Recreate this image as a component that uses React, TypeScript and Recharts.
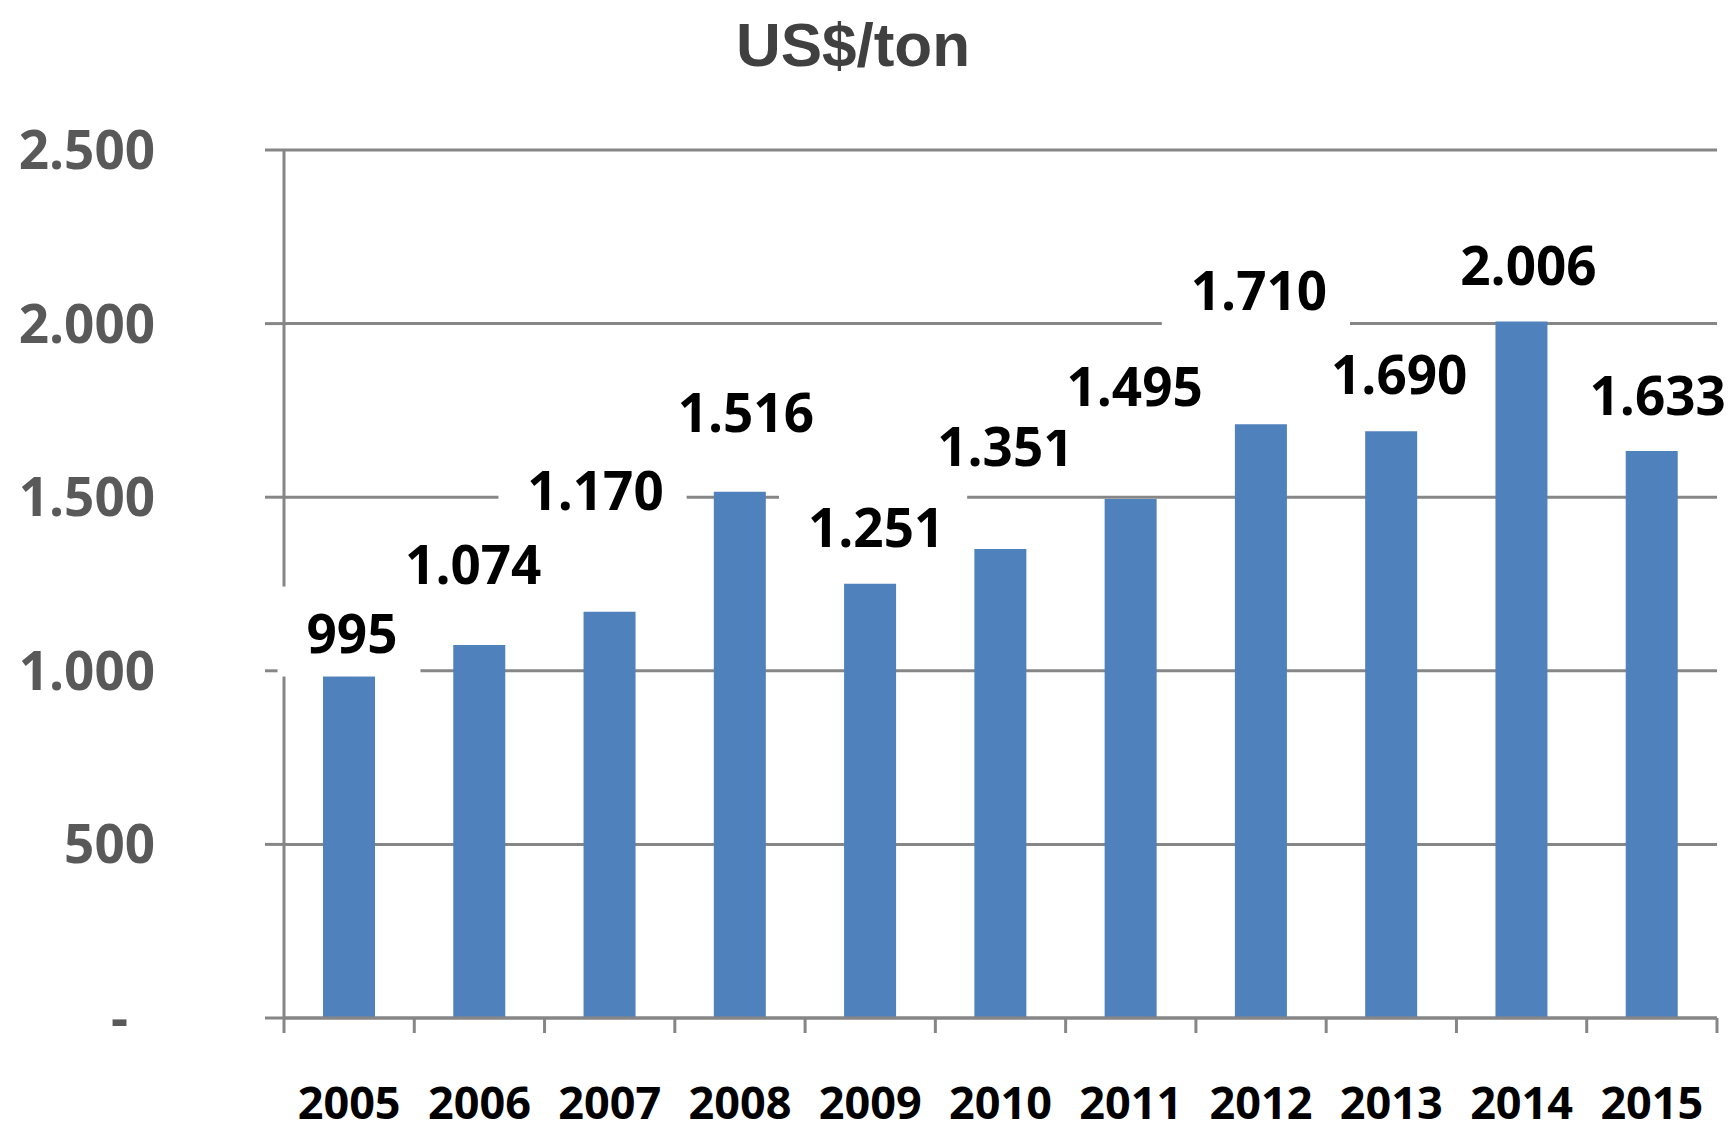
import { BarChart, Bar, XAxis, YAxis, CartesianGrid, LabelList } from 'recharts'

const YEARS = ['2005', '2006', '2007', '2008', '2009', '2010', '2011', '2012', '2013', '2014', '2015']
const PRICES = [995, 1074, 1170, 1516, 1251, 1351, 1495, 1710, 1690, 2006, 1633]
const Y_TICKS = [0, 500, 1000, 1500, 2000, 2500]

// labels were dragged around by hand in the original, so each gets its own lift / nudge (px)
const LABEL_LIFT = [39, 80, 121, 79, 56, 102, 112, 133, 56, 56, 55]
const LABEL_NUDGE = [3, -6, -14, 6, 6, 5, 4, -2, 8, 7, 6]

const W = 1735
const H = 1121
const MARGIN = { top: 150, right: 18, bottom: 0, left: 0 }
const Y_AXIS_W = 284
const STEP = (W - MARGIN.right - MARGIN.left - Y_AXIS_W) / YEARS.length
const GRID = '#868686'
const BAR = '#4F81BD'
const FONT = '"Open Sans", "Noto Sans", sans-serif'

const chartData = YEARS.map((year, i) => ({ year, price: PRICES[i] }))

const fmt = (n: number): string => String(n).replace(/\B(?=(\d{3})+(?!\d))/g, '.')

interface TickProps {
  x?: number
  y?: number
  index?: number
  payload?: { value: number | string }
}

function YTick({ x = 0, y = 0, payload }: TickProps) {
  const v = Number(payload?.value ?? 0)
  return (
    <text
      x={v === 0 ? x - 27 : x}
      y={y + 19}
      textAnchor="end"
      fill="#595959"
      fontFamily={FONT}
      fontWeight={700}
      fontSize={53}
    >
      {v === 0 ? '-' : fmt(v)}
    </text>
  )
}

// Excel puts the category tick marks between the bars, so draw them at the band edges
function XTick({ x = 0, y = 0, index = 0, payload }: TickProps) {
  const left = x - STEP / 2
  const right = x + STEP / 2
  return (
    <g>
      <line x1={left} x2={left} y1={y} y2={y + 15} stroke={GRID} strokeWidth={3} />
      {index === YEARS.length - 1 && <line x1={right} x2={right} y1={y} y2={y + 15} stroke={GRID} strokeWidth={3} />}
      <text x={x} y={y + 101} textAnchor="middle" fill="#000" fontFamily={FONT} fontWeight={700} fontSize={45}>
        {payload?.value}
      </text>
    </g>
  )
}

interface LabelProps {
  x?: number | string
  y?: number | string
  width?: number | string
  value?: number | string
  index?: number
}

function BarLabel({ x, y, width, value, index = 0 }: LabelProps) {
  const text = fmt(Number(value))
  const digits = text.replace(/\./g, '').length
  const dots = text.length - digits
  const textW = digits * 30.3 + dots * 15
  const cx = Number(x) + Number(width) / 2 + (LABEL_NUDGE[index] ?? 0)
  const cy = Number(y) - (LABEL_LIFT[index] ?? 40)
  const boxW = textW + 52
  const boxH = 90
  return (
    <g>
      <rect x={cx - boxW / 2 - 3} y={cy - boxH / 2 - 2} width={boxW} height={boxH} fill="#fff" />
      <text x={cx} y={cy + 19} textAnchor="middle" fill="#000" fontFamily={FONT} fontWeight={700} fontSize={53}>
        {text}
      </text>
    </g>
  )
}

export default function App() {
  return (
    <div style={{ position: 'absolute', left: 0, top: 0, width: W, height: H, background: '#fff' }}>
      <svg width={W} height={90} style={{ position: 'absolute', left: 0, top: 0 }}>
        <text
          x={853}
          y={66}
          textAnchor="middle"
          fill="#404040"
          fontFamily='"Liberation Sans", Arial, sans-serif'
          fontWeight={700}
          fontSize={62}
        >
          US$/ton
        </text>
      </svg>
      <div style={{ position: 'absolute', left: 0, top: 0 }}>
        <BarChart width={W} height={H} data={chartData} margin={MARGIN}>
          <CartesianGrid vertical={false} stroke={GRID} strokeWidth={3} />
          <YAxis
            type="number"
            domain={[0, 2500]}
            ticks={Y_TICKS}
            width={Y_AXIS_W}
            tickSize={19}
            tickMargin={110}
            axisLine={{ stroke: GRID, strokeWidth: 3 }}
            tickLine={{ stroke: GRID, strokeWidth: 3 }}
            tick={<YTick />}
            interval={0}
          />
          <XAxis
            dataKey="year"
            height={103}
            axisLine={{ stroke: GRID, strokeWidth: 3 }}
            tickLine={false}
            tickSize={0}
            tickMargin={0}
            interval={0}
            tick={<XTick />}
          />
          <Bar dataKey="price" fill={BAR} barSize={52} isAnimationActive={false}>
            <LabelList dataKey="price" content={<BarLabel />} />
          </Bar>
        </BarChart>
      </div>
    </div>
  )
}
